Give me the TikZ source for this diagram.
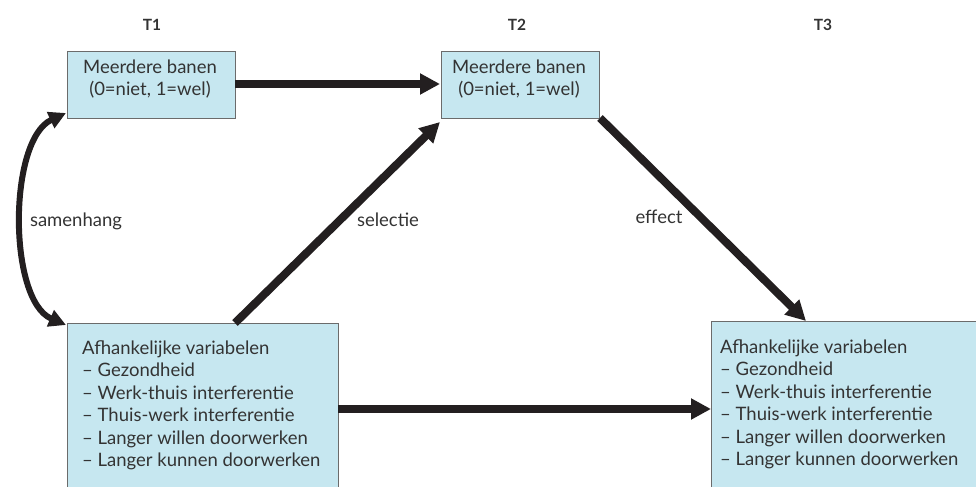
\documentclass[tikz,border=0pt]{standalone}
\usepackage{fontspec}
\setmainfont{Lato}
\usetikzlibrary{arrows.meta}
\definecolor{boxfill}{HTML}{C6E7F0}
\definecolor{boxline}{HTML}{6B6B6B}
\definecolor{ink}{HTML}{231F20}
\definecolor{txt}{HTML}{333333}
\begin{document}
\begin{tikzpicture}[x=1bp,y=-1bp,
  box/.style={draw=boxline,line width=1.2bp,fill=boxfill,inner sep=0pt,anchor=north west},
  lbl/.style={text=txt,font=\fontsize{18.5bp}{22.5bp}\selectfont,inner sep=0pt},
  hdr/.style={text=txt,font=\fontsize{15.5bp}{18bp}\selectfont\bfseries,inner sep=0pt},
  thick arrow/.style={draw=ink,line width=8bp,-{Triangle[length=20bp,width=20bp]}},
  curve arrow/.style={draw=ink,line width=6bp,{Triangle[length=17bp,width=17bp]}-{Triangle[length=17bp,width=17bp]}}]
\useasboundingbox (0,0) rectangle (976,487);
\clip (0,0) rectangle (976,487);
\node[hdr] (h1) at (152,25) {T1};
\node[hdr] (h2) at (517,25) {T2};
\node[hdr] (h3) at (823,25) {T3};
% boxes
\node[box,minimum width=168bp,minimum height=67bp] (A) at (67,51) {};
\node[box,minimum width=158bp,minimum height=67bp] (B) at (441,51) {};
\node[box,minimum width=271bp,minimum height=190bp] (C) at (67,323) {};
\node[box,minimum width=290bp,minimum height=190bp] (D) at (711,321) {};
% texts
\node[lbl,align=center] (At) at (150,79) {Meerdere banen\\(0=niet, 1=wel)};
\node[lbl,align=center] (Bt) at (519,79) {Meerdere banen\\(0=niet, 1=wel)};
\node[lbl,align=left,anchor=north west] (Ct) at (82,340) {Afhankelijke variabelen\\– Gezondheid\\– Werk-thuis interferentie\\– Thuis-werk interferentie\\– Langer willen doorwerken\\– Langer kunnen doorwerken};
\node[lbl,align=left,anchor=north west] (Dt) at (720,339) {Afhankelijke variabelen\\– Gezondheid\\– Werk-thuis interferentie\\– Thuis-werk interferentie\\– Langer willen doorwerken\\– Langer kunnen doorwerken};
\node[lbl] (sam) at (76,221) {samenhang};
\node[lbl] (sel) at (388,220) {selectie};
\node[lbl] (eff) at (659,217) {effect};
% connectors
\coordinate (Aw) at (235,84);
\coordinate (Be) at (440,84);
\draw[thick arrow] (Aw) -- (Be);
\coordinate (Cs) at (235,323);
\coordinate (Bs) at (440,122);
\draw[thick arrow] (Cs) -- (Bs);
\coordinate (Bo) at (600,118);
\coordinate (Dn) at (806,321);
\draw[thick arrow] (Bo) -- (Dn);
\coordinate (Ce) at (338,409);
\coordinate (Dw) at (711,409);
\draw[thick arrow] (Ce) -- (Dw);
\coordinate (Asw) at (66,113);
\coordinate (Cnw) at (66,325);
\draw[curve arrow] (Asw) .. controls (8,140) and (8,300) .. (Cnw);
\end{tikzpicture}
\end{document}
